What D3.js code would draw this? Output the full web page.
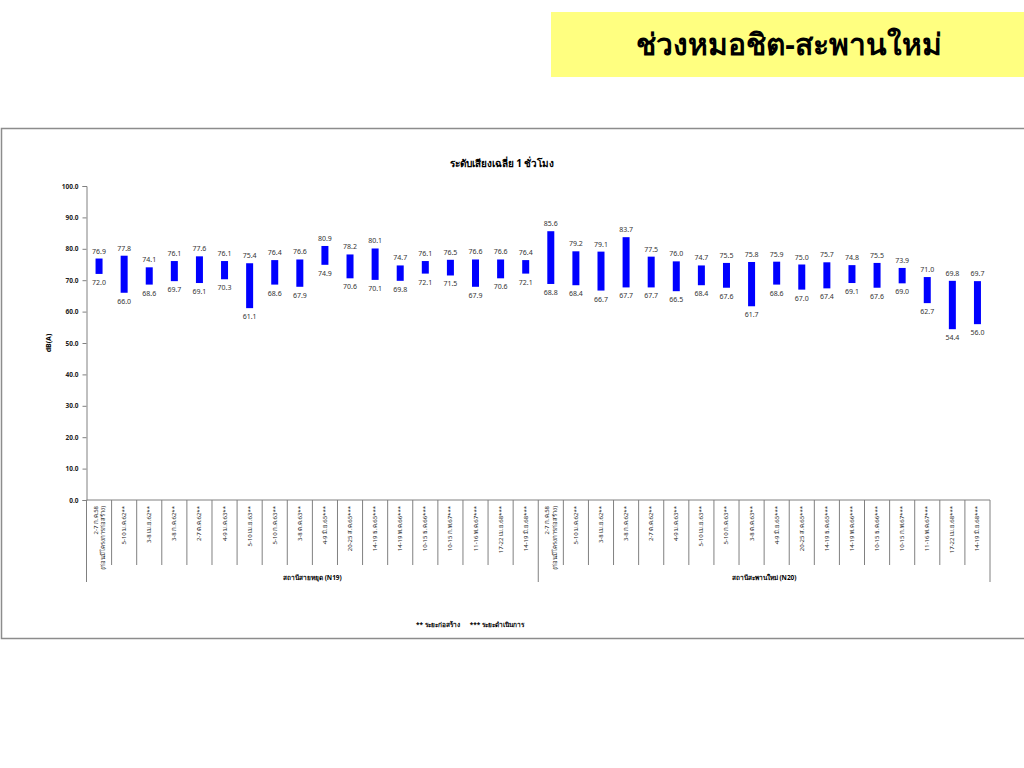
<!DOCTYPE html>
<html>
<head>
<meta charset="utf-8">
<title>ระดับเสียงเฉลี่ย 1 ชั่วโมง</title>
<script src="https://d3js.org/d3.v7.min.js"></script>
<style>
  body { margin: 0; background: #fff; }
  text { font-family: "Noto Sans", "DejaVu Sans", sans-serif; }
</style>
</head>
<body>
<div id="chart"></div>
<script>
// dates of each measurement (same for both stations)
const dates = [
  "2-7 ก.ค.58|(ก่อนมีโครงการก่อสร้าง)", "5-10 ม.ค.62**", "3-8 เม.ย.62**", "3-8 ก.ค.62**",
  "2-7 ต.ค.62**", "4-9 ม.ค.63**", "5-10 เม.ย.63**", "5-10 ก.ค.63**", "3-8 ต.ค.63**",
  "4-9 มิ.ย.65***", "20-25 ส.ค.65***", "14-19 ธ.ค.65***", "14-19 พ.ค.66***",
  "10-15 ธ.ค.66***", "10-15 ก.พ.67***", "11-16 พ.ค.67***", "17-22 เม.ย.68***", "14-19 มิ.ย.68***"
];
const stations = ["สถานีสายหยุด (N19)", "สถานีสะพานใหม่ (N20)"];

const maxN19 = [76.9, 77.8, 74.1, 76.1, 77.6, 76.1, 75.4, 76.4, 76.6, 80.9, 78.2, 80.1, 74.7, 76.1, 76.5, 76.6, 76.6, 76.4];
const minN19 = [72.0, 66.0, 68.6, 69.7, 69.1, 70.3, 61.1, 68.6, 67.9, 74.9, 70.6, 70.1, 69.8, 72.1, 71.5, 67.9, 70.6, 72.1];
const maxN20 = [85.6, 79.2, 79.1, 83.7, 77.5, 76.0, 74.7, 75.5, 75.8, 75.9, 75.0, 75.7, 74.8, 75.5, 73.9, 71.0, 69.8, 69.7];
const minN20 = [68.8, 68.4, 66.7, 67.7, 67.7, 66.5, 68.4, 67.6, 61.7, 68.6, 67.0, 67.4, 69.1, 67.6, 69.0, 62.7, 54.4, 56.0];

const yTicks = [0, 10, 20, 30, 40, 50, 60, 70, 80, 90, 100];

const rows = [];
stations.forEach((s, si) => {
  const mx = si === 0 ? maxN19 : maxN20;
  const mn = si === 0 ? minN19 : minN20;
  dates.forEach((d, i) => rows.push({ key: si + "-" + i, station: si, date: d, max: mx[i], min: mn[i] }));
});

const W = 1024, H = 768;
const svg = d3.select("#chart").append("svg").attr("width", W).attr("height", H);

// heading box
svg.append("rect").attr("x", 551).attr("y", 12).attr("width", 473).attr("height", 65).attr("fill", "#ffff80");
svg.append("text").attr("x", 789).attr("y", 55).attr("text-anchor", "middle")
  .attr("font-size", 30).attr("font-weight", "bold").attr("fill", "#000")
  .text("ช่วงหมอชิต-สะพานใหม่");

// chart frame
svg.append("rect").attr("x", 1.5).attr("y", 128.5).attr("width", 1030).attr("height", 510)
  .attr("fill", "#fff").attr("stroke", "#8c8c8c").attr("stroke-width", 1.5);

svg.append("text").attr("x", 502).attr("y", 167).attr("text-anchor", "middle")
  .attr("font-size", 10).attr("font-weight", "bold").text("ระดับเสียงเฉลี่ย 1 ชั่วโมง");

const x = d3.scaleBand().domain(rows.map(d => d.key)).range([86.5, 990]).paddingInner(0).paddingOuter(0);
const y = d3.scaleLinear().domain([0, 100]).range([500, 186]);

// y axis
const yAxis = svg.append("g").attr("transform", "translate(86.5,0)")
  .call(d3.axisLeft(y).tickValues(yTicks).tickSize(4).tickFormat(d3.format(".1f")));
yAxis.select(".domain").attr("stroke", "#808080");
yAxis.selectAll(".tick line").attr("stroke", "#808080");
yAxis.selectAll(".tick text").attr("font-size", 6.5).attr("font-weight", "bold").attr("fill", "#222").attr("x", -8);

svg.append("text").attr("transform", "translate(51,343) rotate(-90)").attr("text-anchor", "middle")
  .attr("font-size", 7).attr("font-weight", "bold").text("dB(A)");

// x baseline
svg.append("line").attr("x1", 86.5).attr("x2", 990).attr("y1", y(0)).attr("y2", y(0)).attr("stroke", "#808080");

// category separators
const bw = x.bandwidth();
svg.append("g").selectAll("line").data(rows).join("line")
  .attr("x1", d => x(d.key) + bw).attr("x2", d => x(d.key) + bw)
  .attr("y1", y(0)).attr("y2", (d, i) => (i % 18 === 17) ? 582 : 565)
  .attr("stroke", "#808080");
svg.append("line").attr("x1", 86.5).attr("x2", 86.5).attr("y1", y(0)).attr("y2", 582).attr("stroke", "#808080");

// rotated date labels
svg.append("g").selectAll("text").data(rows).join("text")
  .attr("transform", d => `translate(${x(d.key) + bw / 2},506) rotate(-90)`)
  .attr("text-anchor", "end").attr("font-size", 6).attr("fill", "#222")
  .each(function (d) {
    const parts = d.date.split("|");
    const t = d3.select(this);
    parts.forEach((p, j) => {
      t.append("tspan").attr("x", 0).attr("dy", j === 0 ? (parts.length > 1 ? -1.5 : 2) : 7.5).text(p);
    });
  });

// station labels
svg.append("g").selectAll("text").data(stations).join("text")
  .attr("x", (d, i) => x(i + "-0") + bw * 9)
  .attr("y", 580).attr("text-anchor", "middle")
  .attr("font-size", 6.5).attr("font-weight", "bold").text(d => d);

// floating bars
const barW = 7;
svg.append("g").selectAll("rect").data(rows).join("rect")
  .attr("x", d => x(d.key) + bw / 2 - barW / 2)
  .attr("y", d => y(d.max))
  .attr("width", barW)
  .attr("height", d => y(d.min) - y(d.max))
  .attr("fill", "#0000ff");

// value labels
svg.append("g").selectAll("text").data(rows).join("text")
  .attr("x", d => x(d.key) + bw / 2).attr("y", d => y(d.max) - 5)
  .attr("text-anchor", "middle").attr("font-size", 7).attr("fill", "#333")
  .text(d => d.max.toFixed(1));
svg.append("g").selectAll("text").data(rows).join("text")
  .attr("x", d => x(d.key) + bw / 2).attr("y", d => y(d.min) + 11)
  .attr("text-anchor", "middle").attr("font-size", 7).attr("fill", "#333")
  .text(d => d.min.toFixed(1));

// footnote
svg.append("text").attr("x", 470).attr("y", 627).attr("text-anchor", "middle")
  .attr("font-size", 6.5).attr("font-weight", "bold").attr("xml:space", "preserve")
  .text("** ระยะก่อสร้าง      *** ระยะดำเนินการ");
</script>
</body>
</html>
